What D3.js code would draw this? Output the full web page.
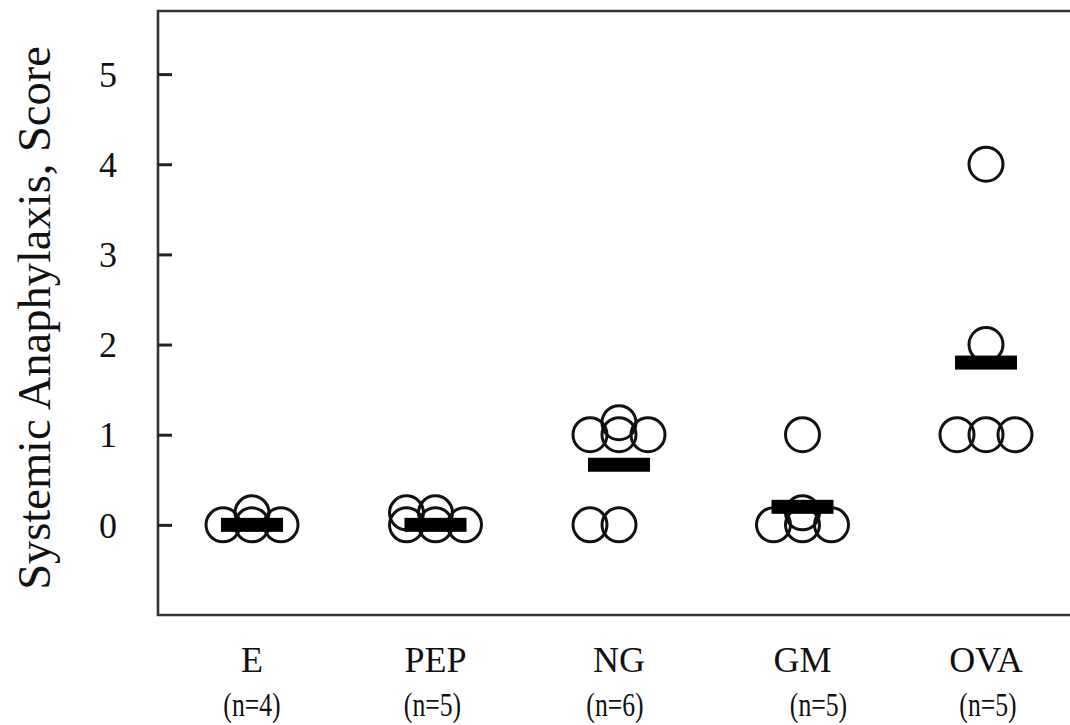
<!DOCTYPE html>
<html>
<head>
<meta charset="utf-8">
<script src="https://cdn.jsdelivr.net/npm/d3@7"></script>
<style>
  html, body { margin: 0; padding: 0; background: #fff; }
  svg { display: block; font-family: "Liberation Serif", "Times New Roman", serif; }
</style>
</head>
<body>
<svg id="chart" width="1070" height="725"></svg>
<script>
// Groups, sample sizes and individual anaphylaxis scores
const categories = ["E", "PEP", "NG", "GM", "OVA"];
const sampleSizes = ["(n=4)", "(n=5)", "(n=6)", "(n=5)", "(n=5)"];
const scoresE = [0, 0, 0, 0];
const scoresPEP = [0, 0, 0, 0, 0];
const scoresNG = [1, 1, 1, 1, 0, 0];
const scoresGM = [1, 0, 0, 0, 0];
const scoresOVA = [4, 2, 1, 1, 1];
const yTickValues = [0, 1, 2, 3, 4, 5];

const groupScores = [scoresE, scoresPEP, scoresNG, scoresGM, scoresOVA];

// Layout constants
const plot = { left: 158, right: 1070, top: 11, bottom: 615 };
const slotGap = 29;        // horizontal spacing between tied points
const raiseGap = 12;       // vertical lift for a second row of tied points
const dotR = 17;
const meanW = 62, meanH = 14;
const nLabelShift = [0, -3, -4, 16, 2];

const svg = d3.select("#chart");

const x = d3.scalePoint().domain(categories).range([252, 986]);
const y = d3.scaleLinear().domain([-1, 5.7]).range([plot.bottom, plot.top]);

// Frame: left axis line plus top and bottom rules
svg.append("path")
  .attr("fill", "none")
  .attr("stroke", "#333")
  .attr("stroke-width", 2.6)
  .attr("d", `M${plot.right},${plot.top}H${plot.left}V${plot.bottom}H${plot.right}`);

// Y axis ticks (pointing inward) and labels
const yAxis = d3.axisLeft(y).tickValues(yTickValues).tickSize(-14).tickPadding(41).tickFormat(d3.format("d"));
const gy = svg.append("g").attr("transform", `translate(${plot.left},0)`).call(yAxis);
gy.select(".domain").remove();
gy.selectAll(".tick line").attr("stroke", "#222").attr("stroke-width", 3);
gy.selectAll(".tick text")
  .attr("fill", "#111")
  .attr("font-size", 36)
  .attr("font-family", "Liberation Serif, Times New Roman, serif")
  .attr("dy", "0.34em");

// Y axis title
svg.append("text")
  .attr("transform", "translate(50,318) rotate(-90)")
  .attr("text-anchor", "middle")
  .attr("font-size", 46.5)
  .attr("fill", "#111")
  .text("Systemic Anaphylaxis, Score");

// Category labels and sample sizes
svg.append("g").selectAll("text").data(categories).join("text")
  .attr("x", d => x(d))
  .attr("y", 672)
  .attr("text-anchor", "middle")
  .attr("font-size", 36)
  .attr("fill", "#111")
  .text(d => d);

svg.append("g").selectAll("text").data(sampleSizes).join("text")
  .attr("transform", (d, i) => `translate(${x(categories[i]) + nLabelShift[i]},716) scale(0.78,1)`)
  .attr("text-anchor", "middle")
  .attr("font-size", 33)
  .attr("fill", "#111")
  .text(d => d);

// Spread tied scores side by side, with a lifted second row when more than three tie
function layoutGroup(scores) {
  const slotSets = [[0], [-1, 0], [-1, 0, 1]];
  const out = [];
  const byScore = d3.group(scores, s => s);
  for (const [score, list] of byScore) {
    const k = list.length;
    const nb = Math.min(k, 3);
    const nr = k - nb;
    slotSets[nb - 1].forEach(s => out.push({ score, slot: s, row: 0 }));
    if (nr > 0) slotSets[nr - 1].forEach(s => out.push({ score, slot: s, row: 1 }));
  }
  return out;
}

const groups = svg.append("g").selectAll("g").data(categories).join("g");

groups.each(function (cat, i) {
  const g = d3.select(this);
  const pts = layoutGroup(groupScores[i]);
  g.selectAll("circle").data(pts).join("circle")
    .attr("cx", d => x(cat) + d.slot * slotGap)
    .attr("cy", d => y(d.score) - d.row * raiseGap)
    .attr("r", dotR)
    .attr("fill", "none")
    .attr("stroke", "#111")
    .attr("stroke-width", 3);

  // Group mean bar
  const m = d3.mean(groupScores[i]);
  g.append("rect")
    .attr("x", x(cat) - meanW / 2)
    .attr("y", y(m) - meanH / 2)
    .attr("width", meanW)
    .attr("height", meanH)
    .attr("fill", "#000");
});
</script>
</body>
</html>
